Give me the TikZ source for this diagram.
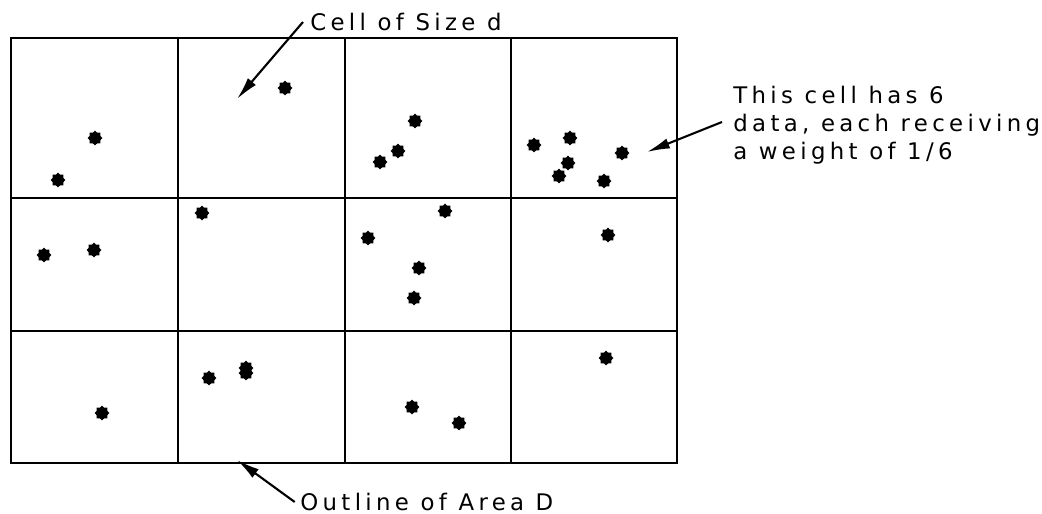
\documentclass[tikz,border=0pt]{standalone}
\usepackage{fontspec}
\setmainfont{DejaVu Sans}[LetterSpace=19]
\usepackage{tikz}
\usetikzlibrary{arrows.meta,shapes.geometric,positioning}
\tikzset{
  datum/.style={
    shape = star,
    star points = 8,
    star point ratio = 1.3,
    minimum size = 8.5pt,
    inner sep = 0pt,
    draw = none,
    fill = black
  },
  grid/.style={
    line width = 1.6pt,
    line cap = rect
  },
  callout/.style={
    line width = 1.2pt,
    -{Latex[length=13pt,width=6pt]}
  },
  label/.style={
    font = \fontsize{13}{16}\selectfont,
    inner sep = 0pt,
    align = left
  }
}

\begin{document}
\begin{tikzpicture}[x=0.02cm, y=-0.02cm]
        \useasboundingbox (0,0) rectangle (1042,514);

        % outline of the area and its cells
        \draw[grid] (11,38) rectangle (677,463);
        \draw[grid] (178,38) -- (178,463);
        \draw[grid] (345,38) -- (345,463);
        \draw[grid] (511,38) -- (511,463);
        \draw[grid] (11,198) -- (677,198);
        \draw[grid] (11,331) -- (677,331);

        % data, row 1
        \node[datum] (d1) at (95,138) {};
        \node[datum] (d2) at (58,180) {};
        \node[datum] (d3) at (285,88) {};
        \node[datum] (d4) at (415,121) {};
        \node[datum] (d5) at (398,151) {};
        \node[datum] (d6) at (380,162) {};
        \node[datum] (d7) at (534,145) {};
        \node[datum] (d8) at (570,138) {};
        \node[datum] (d9) at (568,163) {};
        \node[datum] (d10) at (559,176) {};
        \node[datum] (d11) at (604,181) {};
        \node[datum] (d12) at (622,153) {};

        % data, row 2
        \node[datum] (d13) at (44,255) {};
        \node[datum] (d14) at (94,250) {};
        \node[datum] (d15) at (202,213) {};
        \node[datum] (d16) at (445,211) {};
        \node[datum] (d17) at (368,238) {};
        \node[datum] (d18) at (419,268) {};
        \node[datum] (d19) at (414,298) {};
        \node[datum] (d20) at (608,235) {};

        % data, row 3
        \node[datum] (d21) at (102,413) {};
        \node[datum] (d22) at (209,378) {};
        \node[datum] (d23) at (246,368) {};
        \node[datum] (d24) at (246,373) {};
        \node[datum] (d25) at (412,407) {};
        \node[datum] (d26) at (459,423) {};
        \node[datum] (d27) at (606,358) {};

        % labels
        \node[label, anchor=west] (cellsize) at (310,22) {Cell of Size d};
        \node[label, anchor=north west] (weight) at (733,86) {This cell has 6\\data, each receiving\\a weight of 1/6};
        \node[label, anchor=west] (outline) at (300,502) {Outline of Area D};

        \coordinate (cellsizetip) at (237,99);
        \coordinate (weighttip) at (647,152);
        \coordinate (outlinetip) at (237,460);
        \coordinate (weighttail) at (722,122);

        \draw[callout] ([xshift=-4pt]cellsize.west) -- (cellsizetip);
        \draw[callout] (weighttail) -- (weighttip);
        \draw[callout] ([xshift=-3pt]outline.west) -- (outlinetip);
\end{tikzpicture}
\end{document}
